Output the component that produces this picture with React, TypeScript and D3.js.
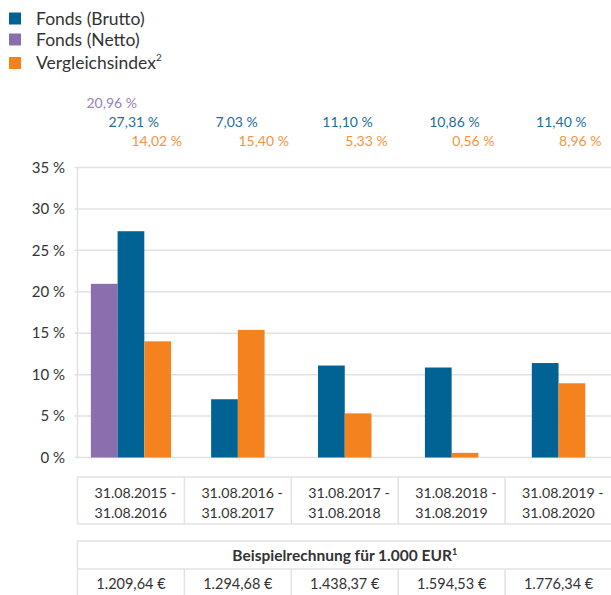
import * as d3 from 'd3';
import { useEffect, useRef } from 'react';

const periodStart = ['31.08.2015 -', '31.08.2016 -', '31.08.2017 -', '31.08.2018 -', '31.08.2019 -'];
const periodEnd = ['31.08.2016', '31.08.2017', '31.08.2018', '31.08.2019', '31.08.2020'];
const brutto = [27.31, 7.03, 11.1, 10.86, 11.4];
const netto: (number | null)[] = [20.96, null, null, null, null];
const index = [14.02, 15.4, 5.33, 0.56, 8.96];
const exampleValues = ['1.209,64 €', '1.294,68 €', '1.438,37 €', '1.594,53 €', '1.776,34 €'];
const yTicks = [0, 5, 10, 15, 20, 25, 30, 35];

const colors = {
  brutto: '#006394',
  netto: '#8b6eae',
  index: '#f4831f',
  nettoLabel: '#9a80bd',
  bruttoLabel: '#1d6e9b',
  indexLabel: '#f59440',
  grid: '#e2e2e2',
  text: '#333333',
};

const font = 'Lato, "Noto Sans", sans-serif';

export default function App() {
  const svgRef = useRef<SVGSVGElement>(null);

  useEffect(() => {
    const svgEl = svgRef.current;
    if (!svgEl) return;
    const width = 611;
    const height = 595;
    const svg = d3.select(svgEl);
    svg.attr('width', width).attr('height', height);
    svg.selectAll('*').remove();

    const left = 77.5;
    const right = 612;
    const cats = periodEnd.map((_, i) => i);
    const x = d3.scaleBand<number>().domain(cats).range([left, right]);
    const y = d3.scaleLinear().domain([0, 35]).range([457.5, 167.5]);
    const fmt = d3.formatLocale({ decimal: ',', thousands: '.', grouping: [3], currency: ['', ''] }).format('.2f');

    // legend
    const legend = [
      { label: 'Fonds (Brutto)', color: colors.brutto, sup: '' },
      { label: 'Fonds (Netto)', color: colors.netto, sup: '' },
      { label: 'Vergleichsindex', color: colors.index, sup: '2' },
    ];
    const lg = svg.append('g').attr('font-family', font);
    legend.forEach((d, i) => {
      const yy = [12.5, 33.5, 57][i];
      lg.append('rect').attr('x', 9).attr('y', yy).attr('width', 12).attr('height', 12).attr('fill', d.color);
      const t = lg
        .append('text')
        .attr('x', 36)
        .attr('y', yy + 12)
        .attr('font-size', 17.5)
        .attr('fill', colors.text)
        .text(d.label);
      if (d.sup) t.append('tspan').attr('font-size', 10).attr('dy', -8).text(d.sup);
    });

    // grid + y axis
    const g = svg.append('g').attr('font-family', font);
    g.selectAll('.grid')
      .data(yTicks)
      .join('line')
      .attr('x1', left - 3)
      .attr('x2', width)
      .attr('y1', (d) => y(d))
      .attr('y2', (d) => y(d))
      .attr('stroke', colors.grid)
      .attr('stroke-width', 1.5);
    g.append('line')
      .attr('x1', left)
      .attr('x2', left)
      .attr('y1', y(35))
      .attr('y2', y(0))
      .attr('stroke', colors.grid)
      .attr('stroke-width', 1.5);
    g.selectAll('.tick')
      .data(yTicks)
      .join('text')
      .attr('x', 65)
      .attr('y', (d) => y(d))
      .attr('dy', '0.35em')
      .attr('text-anchor', 'end')
      .attr('font-size', 15)
      .attr('fill', colors.text)
      .text((d) => `${d} %`);

    // bars
    const bw = x.bandwidth() * 0.25;
    cats.forEach((i) => {
      const series = [
        { v: netto[i], color: colors.netto },
        { v: brutto[i], color: colors.brutto },
        { v: index[i], color: colors.index },
      ].filter((s) => s.v != null) as { v: number; color: string }[];
      const x0 = x(i)! + (x.bandwidth() - series.length * bw) / 2;
      g.selectAll(`.bar${i}`)
        .data(series)
        .join('rect')
        .attr('x', (_, k) => x0 + k * bw)
        .attr('y', (d) => y(d.v))
        .attr('width', bw)
        .attr('height', (d) => y(0) - y(d.v))
        .attr('fill', (d) => d.color);
    });

    // value labels above the chart
    const labelRows = [
      { values: netto, color: colors.nettoLabel, dx: 9, yy: 108 },
      { values: brutto, color: colors.bruttoLabel, dx: 31, yy: 127 },
      { values: index, color: colors.indexLabel, dx: 54, yy: 146 },
    ];
    labelRows.forEach((r) => {
      cats.forEach((i) => {
        const v = r.values[i];
        if (v == null) return;
        g.append('text')
          .attr('x', x(i)! + r.dx)
          .attr('y', r.yy)
          .attr('font-size', 14)
          .attr('fill', r.color)
          .text(`${fmt(v)} %`);
      });
    });

    // period table
    const t = svg.append('g').attr('font-family', font).attr('fill', colors.text);
    const line = (x1: number, y1: number, x2: number, y2: number) =>
      t.append('line').attr('x1', x1).attr('y1', y1).attr('x2', x2).attr('y2', y2)
        .attr('stroke', colors.grid).attr('stroke-width', 1.5);
    const t1 = 477;
    const t1b = 524;
    line(left, t1, width, t1);
    line(left, t1b, width, t1b);
    cats.forEach((i) => line(x(i)!, t1, x(i)!, t1b));
    cats.forEach((i) => {
      t.append('text').attr('x', x(i)! + 17).attr('y', 498).attr('font-size', 14.2).text(periodStart[i]);
      t.append('text').attr('x', x(i)! + 17).attr('y', 518).attr('font-size', 14.2).text(periodEnd[i]);
    });

    // example calculation table
    const t2 = 541;
    const t2m = 569;
    line(left, t2, width, t2);
    line(left, t2m, width, t2m);
    line(left, t2, left, height);
    cats.forEach((i) => { if (i > 0) line(x(i)!, t2m, x(i)!, height); });
    const head = t.append('text')
      .attr('x', (left + right) / 2)
      .attr('y', 561)
      .attr('text-anchor', 'middle')
      .attr('font-size', 15.5)
      .attr('font-weight', 'bold')
      .text('Beispielrechnung für 1.000 EUR');
    head.append('tspan').attr('font-size', 9).attr('dy', -6).text('1');
    cats.forEach((i) => {
      t.append('text')
        .attr('x', x(i)! + x.bandwidth() / 2)
        .attr('y', 589)
        .attr('text-anchor', 'middle')
        .attr('font-size', 14.5)
        .text(exampleValues[i]);
    });
  }, []);

  return (
    <div style={{ position: 'absolute', left: 0, top: 0, background: '#fff' }}>
      <svg ref={svgRef} role="img" aria-label="Wertentwicklung" style={{ display: 'block' }} />
    </div>
  );
}
